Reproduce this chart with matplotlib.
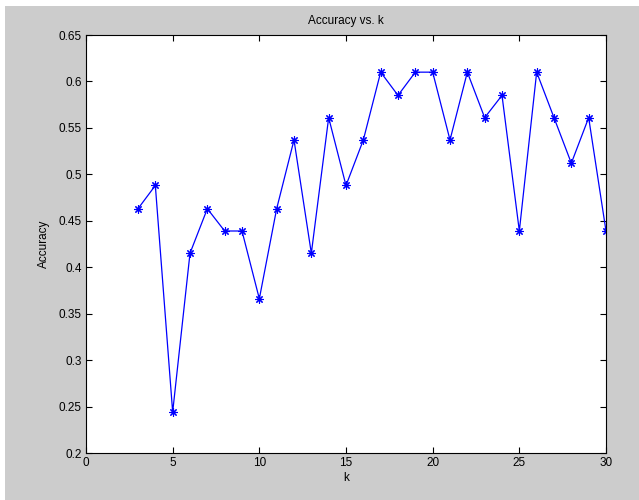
import numpy as np
import matplotlib
matplotlib.use("Agg")
import matplotlib.pyplot as plt
from matplotlib.patches import Rectangle

k = list(range(3, 31))
accuracy = [0.463, 0.488, 0.244, 0.415, 0.463, 0.439, 0.439, 0.366, 0.463, 0.537,
            0.415, 0.561, 0.488, 0.537, 0.610, 0.585, 0.610, 0.610, 0.537, 0.610,
            0.561, 0.585, 0.439, 0.610, 0.561, 0.512, 0.561, 0.439]

xticks = [0, 5, 10, 15, 20, 25, 30]
yticks = [0.2, 0.25, 0.3, 0.35, 0.4, 0.45, 0.5, 0.55, 0.6, 0.65]
ytick_labels = ['0.2', '0.25', '0.3', '0.35', '0.4', '0.45', '0.5', '0.55', '0.6', '0.65']

plt.rcParams['font.family'] = ['Liberation Sans', 'DejaVu Sans']

fig = plt.figure(figsize=(6.39, 5.0), dpi=100, facecolor='white')
# gray MATLAB-style figure background, leaving thin white strip top/left
fig.patches.append(Rectangle((5 / 639, 0), 1 - 5 / 639, 1 - 6 / 500,
                             transform=fig.transFigure, facecolor='#cccccc',
                             edgecolor='none', zorder=-1))

ax = fig.add_axes([86 / 639, 47 / 500, 520 / 639, 418 / 500])
# MATLAB style asterisk marker (8 spokes)
ax.plot(k, accuracy, color='blue', linewidth=0.9, marker=(8, 2, 0), markersize=6,
        markeredgewidth=0.8)

ax.set_xlim(0, 30)
ax.set_ylim(0.2, 0.65)
ax.set_xticks(xticks)
ax.set_yticks(yticks)
ax.set_yticklabels(ytick_labels)
ax.tick_params(direction='in', top=True, right=True, length=4, labelsize=8.5, pad=3)
for s in ax.spines.values():
    s.set_linewidth(0.8)

ax.set_title('Accuracy vs. k', fontsize=8.5, pad=8)
ax.set_xlabel('k', fontsize=8.5, labelpad=2)
ax.set_ylabel('Accuracy', fontsize=8.5, labelpad=6)

fig.savefig('out.png', dpi=100, facecolor=fig.get_facecolor())
